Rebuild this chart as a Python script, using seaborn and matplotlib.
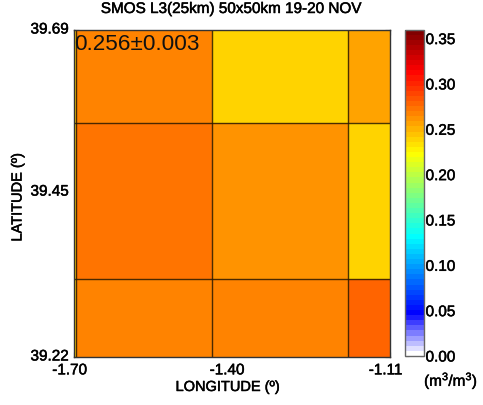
import numpy as np
import pandas as pd
import matplotlib
matplotlib.use("Agg")
import matplotlib.pyplot as plt
import matplotlib.patheffects as pe
import matplotlib.transforms as mtrans
from matplotlib.colors import LinearSegmentedColormap
import seaborn as sns

# cell edges (deg) and soil moisture per cell, south to north
lon_edges = [-1.70, -1.696, -1.441, -1.187, -1.11]
lat_edges = [39.22, 39.332, 39.556, 39.69]
row_south = [0.239, 0.267, 0.267, 0.278]
row_middle = [0.239, 0.273, 0.261, 0.239]
row_north = [0.239, 0.267, 0.239, 0.256]

xtick_values = [-1.70, -1.406, -1.11]
xtick_labels = ["-1.70", "-1.40", "-1.11"]
ytick_values = [39.22, 39.457, 39.69]
ytick_labels = ["39.22", "39.45", "39.69"]
cbar_ticks = [0.00, 0.05, 0.10, 0.15, 0.20, 0.25, 0.30, 0.35]

# colour scale anchors
cmap_values = [0.0, 0.045, 0.131, 0.178, 0.224, 0.316, 0.36]
cmap_colors = ["#ffffff", "#0000ff", "#00ffff", "#80ff80", "#ffff00", "#ff0000", "#800000"]
VMAX = 0.36
STEP = 0.001

sns.set_style("white")
plt.rcParams["font.family"] = ["Liberation Sans", "DejaVu Sans"]
plt.rcParams["mathtext.default"] = "regular"
plt.rcParams["text.color"] = "black"

W, H = 483, 405
fig = plt.figure(figsize=(W / 100, H / 100), dpi=100)
ax = fig.add_axes([73.5 / W, 1 - 357 / H, 316 / W, 327 / H])
cax = fig.add_axes([404.5 / W, 1 - 356 / H, 19 / W, 326.5 / H])

# heatmap cells are uniform, so repeat the values on a fine grid
col_counts = np.round(np.diff(lon_edges) / STEP).astype(int)
row_counts = np.round(np.diff(lat_edges) / STEP).astype(int)
cells = np.array([row_south, row_middle, row_north])
grid = np.repeat(np.repeat(cells, row_counts, axis=0), col_counts, axis=1)
df = pd.DataFrame(grid)

cmap = LinearSegmentedColormap.from_list(
    "smos", [(v / VMAX, c) for v, c in zip(cmap_values, cmap_colors)], N=64)

sns.heatmap(df, ax=ax, cbar_ax=cax, cmap=cmap, vmin=0, vmax=VMAX,
            xticklabels=False, yticklabels=False)
ax.set_ylim(0, grid.shape[0])
ax.set_xlim(0, grid.shape[1])


def lon_x(lon):
    return (np.asarray(lon) - lon_edges[0]) / STEP


def lat_y(lat):
    return (np.asarray(lat) - lat_edges[0]) / STEP


# cell borders
line_color = "#2a1a00"
ax.vlines(lon_x(lon_edges[1:-1]), 0, grid.shape[0], color=line_color, lw=1.0, alpha=0.85)
ax.hlines(lat_y(lat_edges[1:-1]), 0, grid.shape[1], color=line_color, lw=1.0, alpha=0.85)

# the original text is slightly heavier than regular
heavy = [pe.withStroke(linewidth=0.35, foreground="black")]

ax.set_xticks(lon_x(xtick_values))
ax.set_xticklabels(xtick_labels, fontsize=11, color="black", path_effects=heavy)
ax.set_yticks(lat_y(ytick_values))
ax.set_yticklabels(ytick_labels, fontsize=11, color="black", path_effects=heavy)
ax.tick_params(axis="both", direction="in", length=3.5, width=0.8, color="#333333",
               top=True, right=True, bottom=True, left=True)
ax.tick_params(axis="x", pad=3.5)
ax.tick_params(axis="y", pad=3.5)

# x labels sit a bit left of their ticks, y labels a bit above
shift_x = mtrans.ScaledTranslation(-4 / 100, -1.5 / 100, fig.dpi_scale_trans)
for lab in ax.get_xticklabels():
    lab.set_transform(lab.get_transform() + shift_x)
shift_y = mtrans.ScaledTranslation(0, 2 / 100, fig.dpi_scale_trans)
for lab in ax.get_yticklabels():
    lab.set_transform(lab.get_transform() + shift_y)

for spine in ax.spines.values():
    spine.set_visible(True)
    spine.set_color("#333333")
    spine.set_linewidth(1.0)

fig.text(231 / W, 1 - 9 / H, "SMOS L3(25km) 50x50km 19-20 NOV", fontsize=11,
         ha="center", va="center", path_effects=heavy)
fig.text(228 / W, 1 - 387 / H, "LONGITUDE (\u00ba)", fontsize=10.5, ha="center", va="center",
         path_effects=heavy)
fig.text(17.5 / W, 1 - 197 / H, "LATITUDE (\u00ba)", fontsize=10.5, rotation=90,
         ha="center", va="center", path_effects=heavy)
fig.text(74 / W, 1 - 44 / H, "0.256\u00b10.003", fontsize=16.2, ha="left", va="center",
         color="#111111")
fig.text(451 / W, 1 - 381 / H, "(m$^3$/m$^3$)", fontsize=11, ha="center", va="center",
         path_effects=heavy)

cb = ax.collections[0].colorbar
cb.set_ticks(cbar_ticks)
cb.set_ticklabels([f"{t:.2f}" for t in cbar_ticks], fontsize=11, color="black",
                  path_effects=heavy)
cb.ax.tick_params(direction="in", length=3, width=0.8, color="#222222",
                  left=True, right=True, pad=1.5)
cb.outline.set_visible(True)
cb.outline.set_edgecolor("#666666")
cb.outline.set_linewidth(1.0)

fig.savefig("out.png", dpi=100)
